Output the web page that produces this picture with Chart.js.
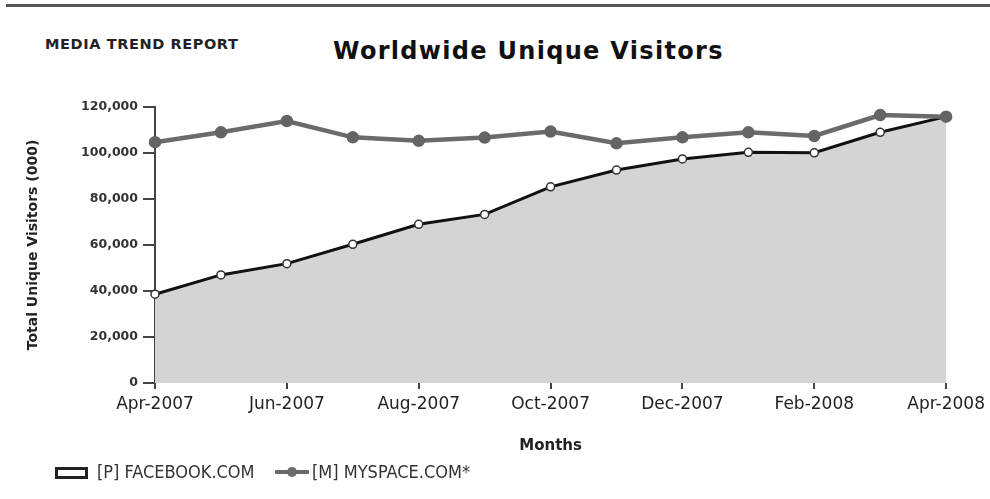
<!DOCTYPE html>
<html>
<head>
<meta charset="utf-8">
<script src="https://cdn.jsdelivr.net/npm/chart.js@4.4.1/dist/chart.umd.min.js"></script>
<style>
  body { margin: 0; background: #fff; }
  #wrap { position: relative; width: 990px; height: 499px; overflow: hidden; font-family: "DejaVu Sans", sans-serif; }
  #rule { position: absolute; left: 6px; top: 4px; width: 984px; height: 3px; background: #555; }
  #report { position: absolute; left: 45px; top: 36px; font: bold 14.5px "DejaVu Sans"; color: #222; letter-spacing: 0.6px; white-space: nowrap; }
  #title { position: absolute; left: 333px; top: 37px; font: bold 24px "DejaVu Sans"; color: #111; letter-spacing: 1.3px; white-space: nowrap; }
  .leg { position: absolute; top: 461px; font: 18px "DejaVu Sans Condensed", "DejaVu Sans"; color: #333; white-space: nowrap; }
  .box { position: absolute; left: 55px; top: 467px; width: 27px; height: 6px; border: 3px solid #222; background: #fff; }
  .mark { position: absolute; left: 275px; top: 470px; width: 34px; height: 4px; background: #6b6b6b; }
  .mark::after { content: ""; position: absolute; left: 12px; top: -3px; width: 10px; height: 10px; border-radius: 50%; background: #6b6b6b; }
  canvas { position: absolute; left: 0; top: 0; }
</style>
</head>
<body>
<div id="wrap">
  <div id="rule"></div>
  <div id="report">MEDIA TREND REPORT</div>
  <div id="title">Worldwide Unique Visitors</div>
  <canvas id="visitorsChart" width="990" height="499"></canvas>
  <div id="legend"></div>
</div>
<script>
const months = ['Apr-2007', 'May-2007', 'Jun-2007', 'Jul-2007', 'Aug-2007', 'Sep-2007', 'Oct-2007',
                'Nov-2007', 'Dec-2007', 'Jan-2008', 'Feb-2008', 'Mar-2008', 'Apr-2008'];
const facebook = [38600, 47000, 51900, 60300, 69000, 73300, 85300, 92600, 97400, 100300, 100100, 109000, 115800];
const myspace = [104700, 109000, 113900, 106800, 105300, 106700, 109300, 104200, 106800, 109000, 107400, 116500, 115800];
const seriesNames = ['[P] FACEBOOK.COM', '[M] MYSPACE.COM*'];

function renderVisitorsChart() {
    const ctx = document.getElementById('visitorsChart').getContext('2d');
    new Chart(ctx, {
        type: 'line',
        data: {
            labels: months,
            datasets: [{
                label: seriesNames[0],
                data: facebook,
                borderColor: '#111',
                borderWidth: 3,
                backgroundColor: '#d4d4d4',
                fill: 'origin',
                tension: 0,
                pointRadius: 4,
                pointBorderWidth: 1.5,
                pointBackgroundColor: '#fff',
                pointBorderColor: '#333',
                order: 1
            }, {
                label: seriesNames[1],
                data: myspace,
                borderColor: '#6b6b6b',
                borderWidth: 4.5,
                fill: false,
                tension: 0,
                pointRadius: 4,
                pointBackgroundColor: '#646464',
                pointBorderColor: '#646464',
                order: 0
            }]
        },
        options: {
            responsive: false,
            animation: false,
            layout: { padding: { left: 0, right: 43, top: 107, bottom: 0 } },
            plugins: {
                legend: { display: false },
                title: { display: false },
                tooltip: { enabled: false }
            },
            scales: {
                x: {
                    afterFit: s => { s.height = 116; },
                    border: { display: false },
                    grid: {
                        drawOnChartArea: false,
                        tickLength: 6,
                        lineWidth: 2,
                        color: c => (c.index % 2 ? 'rgba(0,0,0,0)' : '#444')
                    },
                    ticks: {
                        autoSkip: false,
                        maxRotation: 0,
                        padding: 5,
                        color: '#222',
                        font: { family: 'DejaVu Sans', size: 17 },
                        callback: (v, i) => (i % 2 ? '' : months[i])
                    },
                    title: {
                        display: true,
                        text: 'Months',
                        color: '#222',
                        font: { family: 'DejaVu Sans', size: 15, weight: 'bold' },
                        padding: { top: 0, bottom: 44 }
                    }
                },
                y: {
                    min: 0,
                    max: 120000,
                    afterFit: s => { s.width = 155; },
                    border: { display: true, color: '#444', width: 2 },
                    grid: { drawOnChartArea: false, tickLength: 12, lineWidth: 2, color: '#444' },
                    ticks: {
                        stepSize: 20000,
                        padding: 5,
                        color: '#333',
                        font: { family: 'DejaVu Sans', size: 12.5, weight: 'bold' },
                        callback: v => v.toLocaleString('en-US')
                    },
                    title: {
                        display: true,
                        text: 'Total Unique Visitors (000)',
                        color: '#222',
                        font: { family: 'DejaVu Sans', size: 14, weight: 'bold' },
                        padding: { top: 25, bottom: 0 }
                    }
                }
            }
        }
    });

    const legend = document.getElementById('legend');
    legend.innerHTML =
        '<div class="box"></div><div class="leg" style="left:97px">' + seriesNames[0] + '</div>' +
        '<div class="mark"></div><div class="leg" style="left:312px">' + seriesNames[1] + '</div>';
}

renderVisitorsChart();
</script>
</body>
</html>
